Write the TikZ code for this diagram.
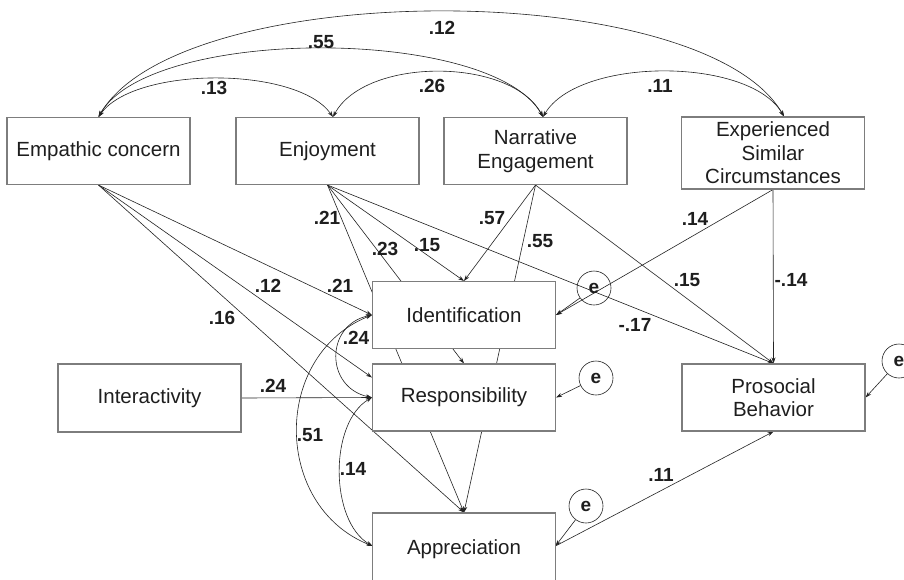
\documentclass[tikz,border=0pt]{standalone}
\usepackage{fontspec}
\setmainfont{Liberation Sans}
\usetikzlibrary{arrows.meta}
\definecolor{boxgray}{RGB}{125,125,125}
\definecolor{linec}{RGB}{35,35,35}
\definecolor{textc}{RGB}{30,30,30}
\pgfdeclarelayer{back}
\pgfdeclarelayer{lines}
\pgfsetlayers{back,lines,main}
\begin{document}
\begin{tikzpicture}[x=1pt,y=-1pt,
  box/.style={draw=boxgray, line width=1.1pt, fill=white, minimum width=183pt, minimum height=67pt, inner sep=0pt, align=center, font=\fontsize{20.5}{23.5}\selectfont, text=textc},
  lbl/.style={font=\fontsize{19}{21}\selectfont\bfseries, inner sep=0pt, text=textc},
  err/.style={circle, draw=linec, line width=0.6pt, minimum size=34pt, inner sep=0pt, font=\fontsize{19}{21}\selectfont\bfseries, text=textc},
  tip/.tip={Stealth[length=6pt,width=4pt]},
  reg/.style={draw=linec, line width=0.6pt, -tip},
  cov/.style={draw=linec, line width=0.6pt, tip-tip},
]
\path[use as bounding box] (0,0) rectangle (904,579);
\begin{pgfonlayer}{back}
\fill[white] (0,0) rectangle (904,579);
\end{pgfonlayer}

% boxes
\node[box] (ec) at (98.5,151) {Empathic concern};
\node[box] (enj) at (327.5,151) {Enjoyment};
\node[box] (ne) at (535.5,151) {Narrative\\Engagement};
\node[box, minimum height=72pt] (esc) at (773,153) {Experienced\\Similar\\Circumstances};
\node[box, minimum height=68pt] (inter) at (149.5,398) {Interactivity};
\node[box] (ident) at (464,315) {Identification};
\node[box] (resp) at (464,397.5) {Responsibility};
\node[box] (pros) at (773.5,397.5) {Prosocial\\Behavior};
\node[box, minimum height=72pt] (appr) at (464,549) {Appreciation};
\coordinate (apprW) at (372.5,546);
\coordinate (apprE) at (555.5,546);

% error terms
\node[err] (e1) at (594,288) {e};
\node[err] (e2) at (596,378) {e};
\node[err] (e3) at (586,506) {e};
\node[err] (e4) at (899,361) {e};

\coordinate (ecT) at (ec.north);
\coordinate (enjT) at ([xshift=5.5pt]enj.north);
\coordinate (neT) at ([xshift=7.5pt]ne.north);
\coordinate (escT) at ([xshift=11pt]esc.north);

\begin{pgfonlayer}{lines}
% covariances among exogenous
\draw[cov] (ecT) .. controls +(36,-51) and +(-36,-51) .. (enjT);
\draw[cov] (enjT) .. controls +(32,-60) and +(-32,-60) .. (neT);
\draw[cov] (neT) .. controls +(35,-60) and +(-35,-60) .. (escT);
\draw[cov] (ecT) .. controls +(51,-91) and +(-51,-91) .. (neT);
\draw[cov] (ecT) .. controls +(81,-140) and +(-81,-140) .. (escT);
% covariances among mediators
\draw[cov] (ident.west) .. controls +(-47,10) and +(-47,-10) .. (resp.west);
\draw[cov] (ident.west) .. controls +(-100,40) and +(-100,-40) .. (apprW);
\draw[cov] (resp.west) .. controls +(-43,25) and +(-43,-25) .. (apprW);
% paths
\draw[reg] (ec.south) -- (ident.west);
\draw[reg] (ec.south) -- ([yshift=20pt]resp.west);
\draw[reg] (ec.south) -- (appr.north);
\draw[reg] (enj.south) -- (appr.north);
\draw[reg] (enj.south) -- (resp.north);
\draw[reg] (enj.south) -- (ident.north);
\draw[reg] (enj.south) -- (pros.north);
\draw[reg] (ne.south) -- (ident.north);
\draw[reg] (ne.south) -- (appr.north);
\draw[reg] (ne.south) -- (pros.north);
\draw[reg] (esc.south) -- (ident.east);
\draw[reg] (esc.south) -- (pros.north);
\draw[reg] (inter.east) -- (resp.west);
\draw[reg] (apprE) -- (pros.south);
% error arrows
\draw[reg] (e1) -- (ident.east);
\draw[reg] (e2) -- (resp.east);
\draw[reg] (e3) -- (apprE);
\draw[reg] (e4) -- (pros.east);
\end{pgfonlayer}

% coefficient labels
\node[lbl] (l1) at (442,28) {.12};
\node[lbl] (l2) at (321,42) {.55};
\node[lbl] (l3) at (214,88) {.13};
\node[lbl] (l4) at (432,86) {.26};
\node[lbl] (l5) at (660,86) {.11};
\node[lbl] (l6) at (327,218) {.21};
\node[lbl] (l7) at (385,249) {.23};
\node[lbl] (l8) at (427,245) {.15};
\node[lbl] (l9) at (492,218) {.57};
\node[lbl] (l10) at (540,241) {.55};
\node[lbl] (l11) at (340,286) {.21};
\node[lbl] (l12) at (268,286) {.12};
\node[lbl] (l13) at (222,318) {.16};
\node[lbl] (l14) at (273,386) {.24};
\node[lbl] (l15) at (356,338) {.24};
\node[lbl] (l16) at (310,435) {.51};
\node[lbl] (l17) at (353,469) {.14};
\node[lbl] (l18) at (661,475) {.11};
\node[lbl] (l19) at (695,219) {.14};
\node[lbl] (l20) at (687,280) {.15};
\node[lbl] (l21) at (791,280) {-.14};
\node[lbl] (l22) at (635,325) {-.17};
\end{tikzpicture}
\end{document}
